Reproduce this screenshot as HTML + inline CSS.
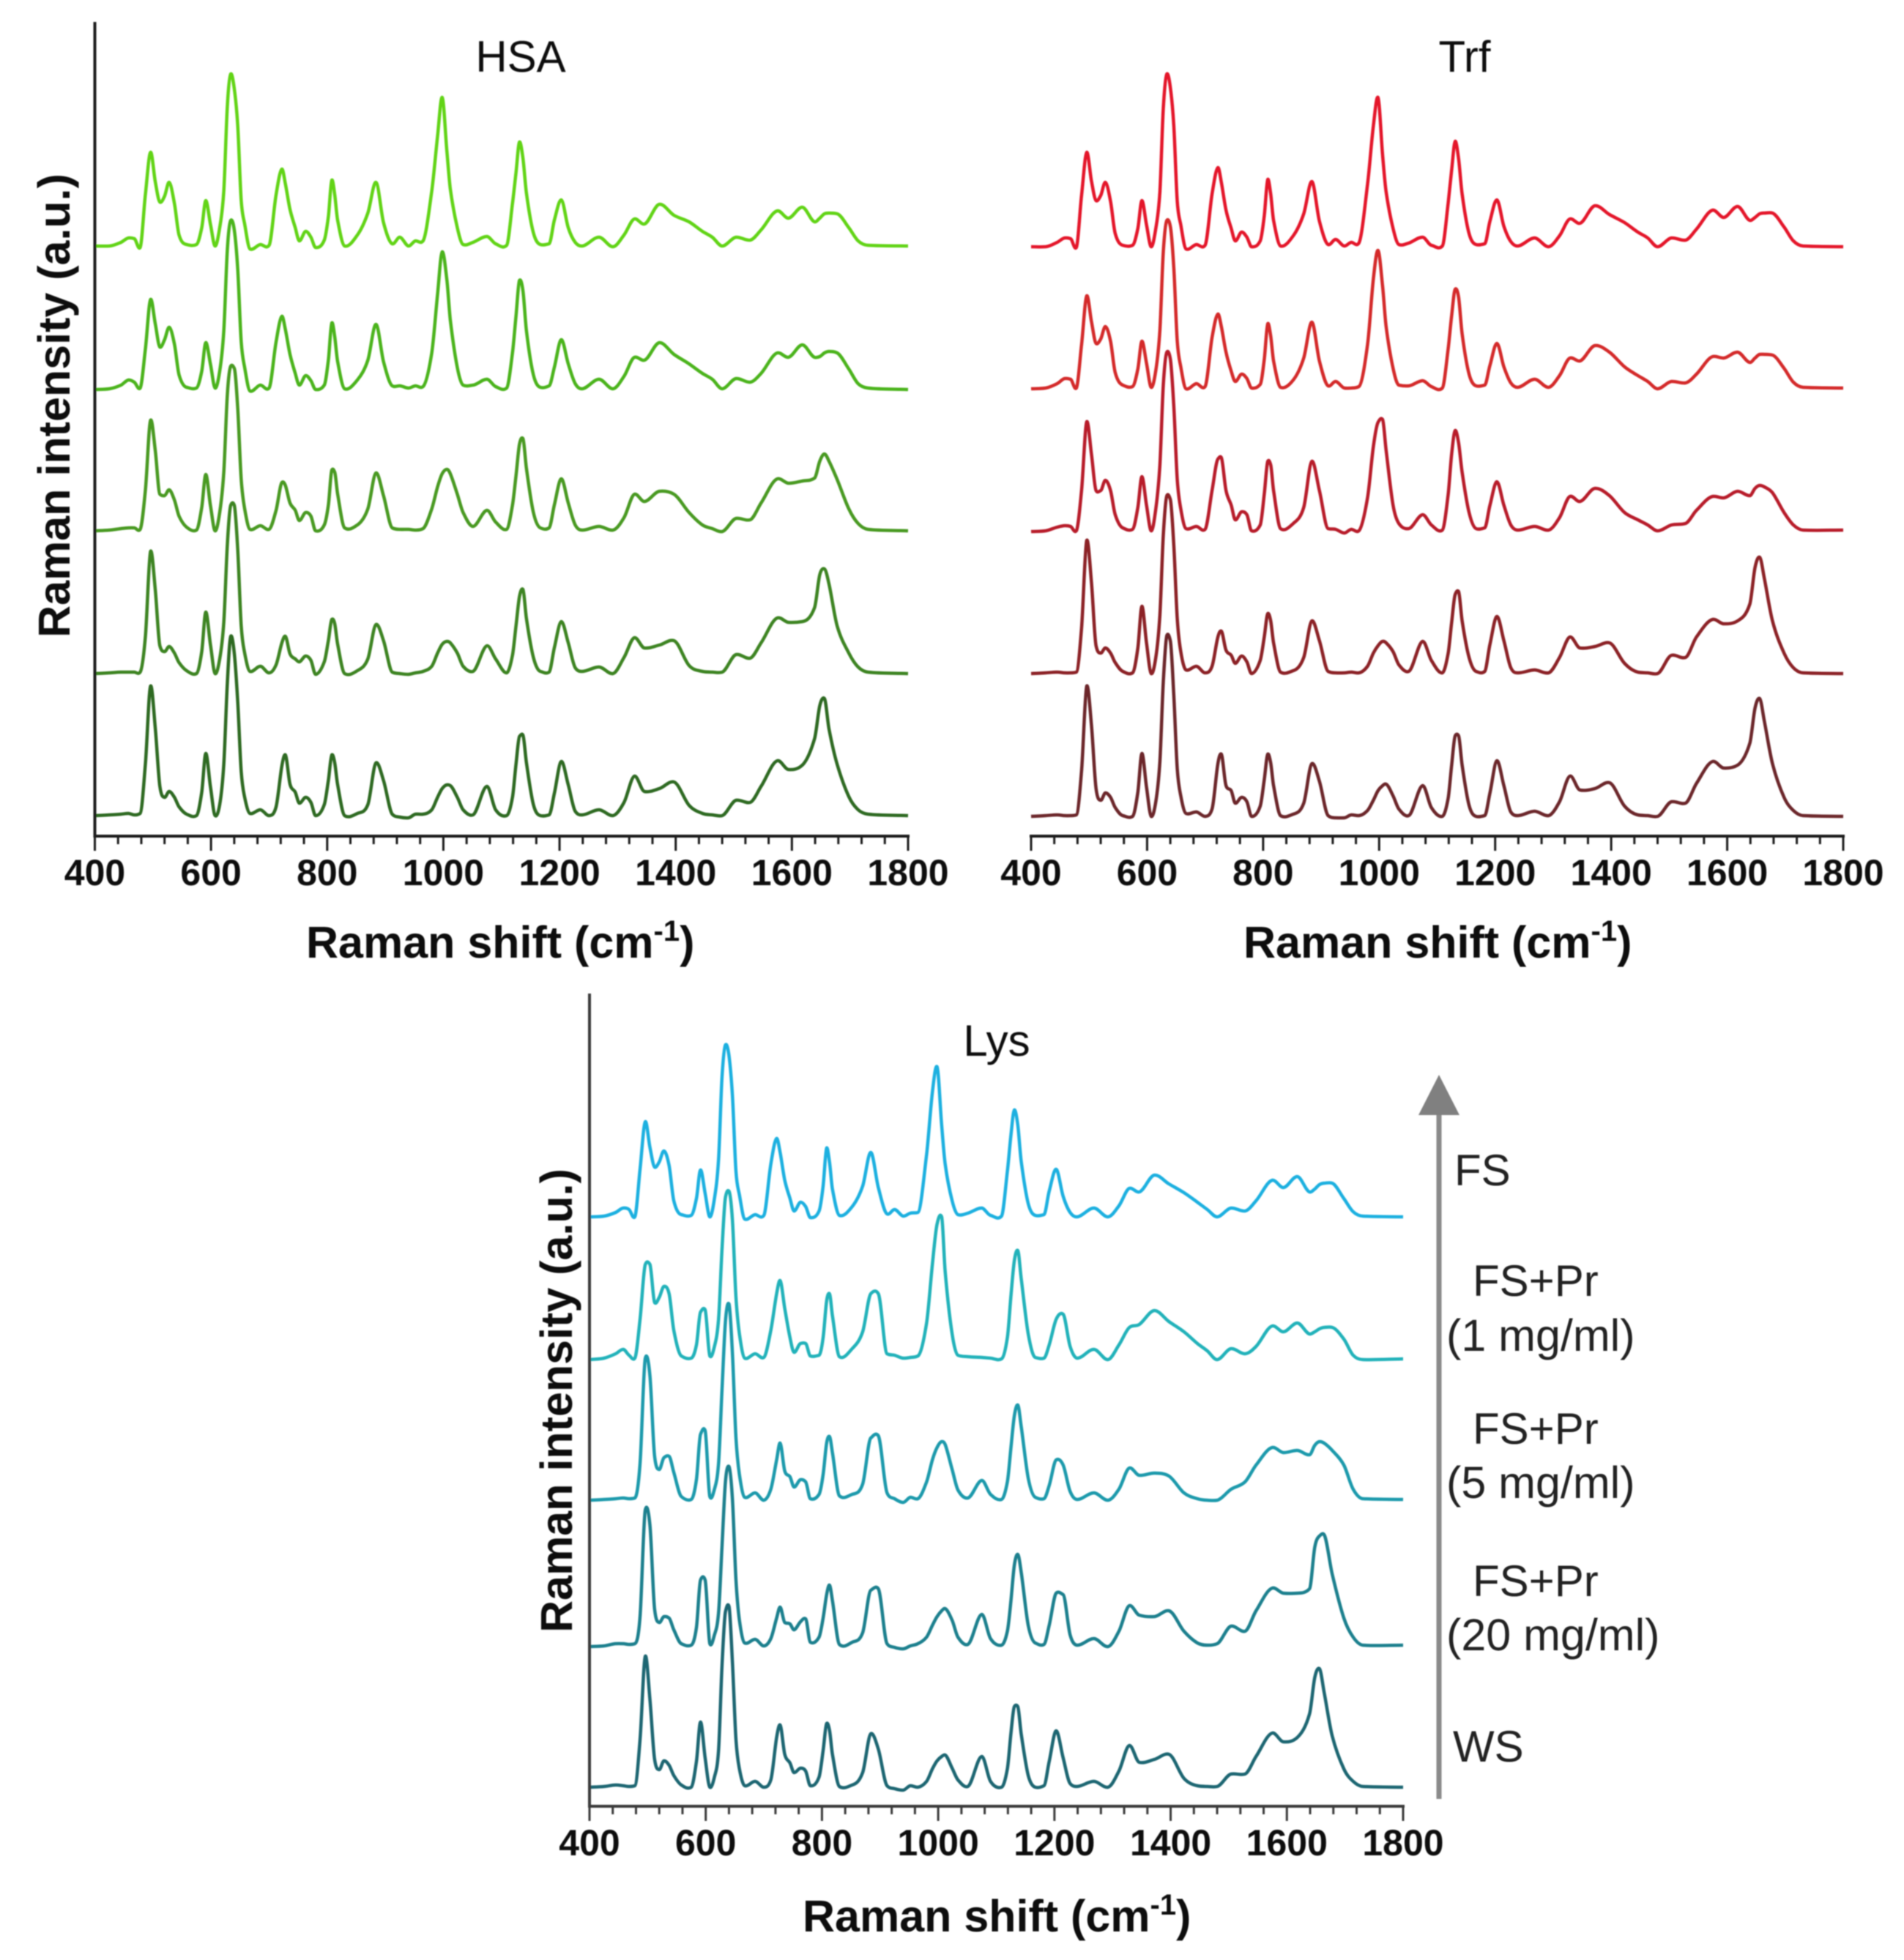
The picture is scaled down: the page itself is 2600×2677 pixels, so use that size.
<!DOCTYPE html>
<html lang="en">
<head>
<meta charset="utf-8">
<title>Raman spectra of HSA, Trf and Lys</title>
<style>
html,body{margin:0;padding:0;background:#fff;}
svg{display:block;}
text{font-family:"Liberation Sans",Arial,sans-serif;fill:#111;}
.tick{font-size:50px;font-weight:bold;text-anchor:middle;}
.axt{font-size:61px;font-weight:bold;}
.lab{font-size:60px;fill:#222;}
.lab2{font-size:61px;fill:#222;}
</style>
</head>
<body>
<svg id="chart" xmlns="http://www.w3.org/2000/svg" width="2600" height="2677" viewBox="0 0 2600 2677">
<defs><filter id="soft" x="-2%" y="-2%" width="104%" height="104%"><feGaussianBlur stdDeviation="0.9"/></filter></defs>
<rect width="2600" height="2677" fill="#fff"/>
<g id="plots" filter="url(#soft)">
<g id="hsa"></g>
<g id="trf"></g>
<g id="lys"></g>
<text x="711" y="98" font-size="60" text-anchor="middle">HSA</text>
<text x="2000" y="98" font-size="60" text-anchor="middle">Trf</text>
<text x="1361" y="1442" font-size="60" text-anchor="middle">Lys</text>
<text class="axt" transform="translate(95,554) rotate(-90)" text-anchor="middle">Raman intensity (a.u.)</text>
<text class="axt" transform="translate(781,1913) rotate(-90)" text-anchor="middle">Raman intensity (a.u.)</text>
<text class="axt" x="418" y="1308">Raman shift (cm<tspan font-size="40" dy="-23">-1</tspan><tspan dy="23">)</tspan></text>
<text class="axt" x="1698" y="1308">Raman shift (cm<tspan font-size="40" dy="-23">-1</tspan><tspan dy="23">)</tspan></text>
<text class="axt" x="1096" y="2638">Raman shift (cm<tspan font-size="40" dy="-23">-1</tspan><tspan dy="23">)</tspan></text>
<line x1="1965" y1="2457" x2="1965" y2="1515" stroke="#8a8a8a" stroke-width="7"/>
<polygon points="1965,1468 1993,1523 1937,1523" fill="#808080"/>
<text class="lab" x="1986" y="1619">FS</text>
<text class="lab" x="2011" y="1770">FS+Pr</text>
<text class="lab2" x="1975" y="1845">(1 mg/ml)</text>
<text class="lab" x="2011" y="1972">FS+Pr</text>
<text class="lab2" x="1975" y="2046">(5 mg/ml)</text>
<text class="lab" x="2011" y="2180">FS+Pr</text>
<text class="lab2" x="1975" y="2254">(20 mg/ml)</text>
<text class="lab" x="1984" y="2406">WS</text>
</g>
</svg>
<script>
const xTickLabels = [400,600,800,1000,1200,1400,1600,1800];
const xMinorStep = 40;
const shifts = [
400,425,445,458,468,478,487,496,504,512,
520,528,537,545,558,575,584,591,599,607,
615,622,628,634,640,646,652,658,667,685,
700,712,722,728,736,745,752,763,772,780,
795,802,808,813,818,830,852,870,884,897,
912,925,940,952,965,980,990,998,1006,1012,
1024,1034,1051,1075,1090,1109,1119,1125,1131,1137,
1143,1155,1167,1182,1191,1203,1215,1227,1239,1268,
1292,1311,1329,1346,1372,1397,1423,1446,1463,1480,
1504,1528,1547,1575,1594,1618,1639,1648,1656,1664,
1678,1698,1714,1731,1800];

const hsaFS = [
0,0,5,11,10,-2,70,128,88,60,
68,87,58,15,2,2,25,62,30,0,
25,75,190,235,215,165,62,30,-4,2,
1,70,105,85,50,25,7,20,12,-2,
8,40,90,70,35,0,15,45,87,32,
3,12,0,7,7,75,150,203,130,78,
25,2,5,13,3,1,58,100,142,120,
72,18,2,3,35,63,25,5,0,12,
-1,15,37,30,57,42,33,20,12,0,
12,8,22,48,38,53,33,38,44,45,
44,25,7,1,0];
const hsa1 = [
0,1,6,13,10,2,55,123,90,58,
68,85,62,20,3,2,25,64,35,2,
25,80,190,231,218,165,65,30,-2,6,
2,65,100,82,48,22,6,19,12,0,
6,40,91,72,38,1,13,40,89,38,
5,5,2,5,4,50,130,188,150,95,
30,6,6,14,4,2,50,100,149,135,
80,20,3,5,30,68,35,8,1,14,
1,18,44,40,64,48,35,22,14,1,
15,10,22,50,44,61,44,45,50,52,
50,28,8,2,0];
const hsa5 = [
0,1,3,4,4,2,55,151,110,50,
48,56,42,20,5,1,32,77,35,0,
25,80,185,225,222,168,70,30,2,7,
2,28,66,62,38,28,14,25,20,0,
8,35,83,80,50,4,8,30,79,48,
4,2,2,1,3,30,60,78,84,78,
50,25,6,28,12,2,35,75,118,126,
85,25,4,4,35,71,38,8,1,6,
1,18,50,40,54,50,25,8,3,-1,
17,15,38,71,65,68,72,95,105,95,
70,30,10,2,0];
const hsa20 = [
0,1,2,2,2,2,50,167,115,38,
30,37,28,15,4,0,30,84,40,0,
20,70,175,230,230,170,65,28,3,10,
1,12,42,51,27,20,16,24,18,-1,
16,45,74,68,40,0,4,20,67,45,
2,0,-1,1,3,10,28,40,44,42,
28,10,3,38,20,1,25,65,105,115,
75,22,3,2,35,71,42,8,3,9,
0,22,49,35,39,45,11,3,2,2,
26,21,42,76,70,71,90,135,143,122,
65,28,9,2,0];
const hsaWS = [
0,1,2,3,1,3,70,177,120,40,
25,33,25,12,2,0,32,85,40,0,
15,70,180,245,222,156,60,25,3,8,
0,12,68,83,43,32,17,25,18,0,
15,48,83,72,42,0,3,15,72,48,
2,-2,-3,2,2,8,25,37,42,41,
25,8,1,40,8,0,25,70,108,110,
72,15,0,1,30,74,42,6,1,8,
0,18,54,33,37,46,14,3,1,0,
21,18,40,75,63,69,105,150,160,118,
70,26,8,2,0];

const trfFS = [
0,0,6,12,11,-1,70,129,90,63,
70,88,62,18,2,2,25,63,30,0,
25,75,190,236,218,165,62,30,-3,3,
2,72,108,88,50,25,8,20,13,0,
8,42,92,72,36,1,15,45,89,35,
3,10,1,6,5,85,165,204,125,75,
25,3,5,13,2,1,60,105,144,120,
72,18,3,4,35,64,28,7,1,12,
0,15,38,32,56,44,33,20,12,0,
12,9,24,50,40,55,36,40,45,46,
46,27,8,1,0];
const trf1 = [
0,1,7,14,13,1,60,127,92,62,
68,85,65,22,5,3,27,65,35,2,
25,80,188,230,222,165,65,30,0,7,
3,70,102,85,50,24,10,20,14,1,
6,40,89,72,38,2,12,42,91,38,
4,10,1,1,3,60,150,189,140,85,
28,5,4,11,3,1,55,100,136,125,
75,20,4,5,32,62,30,8,2,13,
2,18,42,38,59,50,30,18,10,0,
10,8,20,44,42,50,36,42,47,47,
46,28,9,2,1];
const trf5 = [
-1,0,5,7,6,0,55,149,105,55,
55,69,55,22,4,2,32,74,35,0,
30,90,200,244,235,170,70,30,3,6,
2,55,98,100,55,35,15,26,22,0,
8,50,95,90,55,3,10,32,95,55,
3,2,-3,2,0,45,115,148,152,110,
35,10,3,22,8,1,50,105,137,120,
80,25,3,4,35,67,35,8,1,6,
1,18,47,40,58,48,25,15,8,0,
8,10,28,47,45,54,48,58,62,60,
52,25,8,1,1];
const trf20 = [
0,1,2,1,1,2,62,182,125,38,
28,35,28,15,3,1,35,92,42,0,
22,80,190,243,238,175,75,30,5,10,
1,10,50,58,32,25,14,24,16,0,
18,50,82,72,42,2,4,22,72,45,
3,1,1,2,1,10,28,38,44,42,
30,12,3,44,18,1,28,70,108,112,
72,22,3,3,40,78,45,8,1,5,
1,22,50,35,37,42,14,2,1,0,
25,22,50,74,68,72,95,145,159,130,
72,28,8,1,0];
const trfWS = [
0,1,2,1,1,2,62,178,125,38,
22,32,26,12,1,0,33,86,40,0,
20,75,185,247,240,165,65,28,4,6,
0,10,72,85,42,35,18,26,20,0,
14,50,85,73,42,1,3,18,72,48,
1,-2,-2,2,1,8,22,35,42,44,
28,10,1,42,12,0,25,70,110,110,
70,15,0,1,32,76,42,6,1,7,
1,20,55,36,38,46,14,2,1,0,
20,18,45,75,66,70,100,148,161,130,
72,26,8,1,0];

const lysFS = [
0,1,6,12,10,0,65,130,95,68,
75,90,70,22,3,2,25,64,32,0,
25,78,190,235,220,165,62,30,-3,3,
2,72,107,88,50,25,8,20,14,-1,
8,42,94,75,38,2,14,42,88,40,
4,10,1,5,6,85,170,205,125,72,
22,3,5,12,2,1,62,110,146,125,
75,18,2,3,35,65,28,6,0,12,
0,15,39,34,57,45,33,20,10,0,
12,8,22,50,40,55,34,38,44,46,
46,25,7,1,0];
const lys1 = [
0,2,8,14,6,2,55,130,130,78,
85,100,90,40,5,2,20,65,68,5,
18,55,150,222,230,190,85,35,2,8,
3,40,90,108,70,30,10,22,22,5,
6,30,80,90,60,4,15,38,90,90,
8,6,2,3,5,50,130,185,195,120,
35,6,4,3,2,1,30,85,135,149,
110,35,3,2,20,55,62,18,2,14,
0,20,44,48,67,52,38,22,12,0,
15,8,18,46,38,50,35,38,42,44,
44,28,6,0,1];
const lys5 = [
0,1,2,3,2,3,50,194,170,60,
42,58,60,38,5,1,28,90,95,5,
15,50,150,245,268,200,85,35,4,10,
0,15,55,78,40,32,18,28,25,2,
8,35,78,87,65,6,8,22,85,88,
10,2,-3,4,2,25,55,72,80,76,
42,14,3,27,8,1,25,70,115,130,
100,30,4,2,20,55,48,12,1,10,
0,15,44,34,37,33,10,2,0,0,
15,25,48,72,65,68,62,75,80,78,
68,48,15,2,1];
const lys20 = [
-1,0,3,3,2,3,40,186,165,50,
32,40,38,22,3,1,25,90,90,3,
15,45,135,225,245,200,90,35,4,9,
0,10,38,53,32,30,22,33,37,5,
12,38,70,83,62,2,5,18,76,78,
3,-2,-4,0,3,12,28,40,48,51,
35,12,2,43,10,1,20,60,110,125,
100,28,4,2,28,72,70,15,1,10,
-1,20,55,42,40,48,20,4,1,3,
27,20,48,79,72,72,78,135,150,152,
98,38,12,1,1];
const lysWS = [
0,1,3,2,1,2,65,179,120,38,
24,36,30,16,3,0,35,89,40,0,
14,50,165,240,247,170,65,25,2,8,
0,10,68,85,45,33,20,26,22,2,
14,50,87,78,45,1,3,20,73,52,
2,-2,-4,2,0,8,25,36,42,44,
26,10,1,42,8,0,25,72,110,110,
72,16,0,2,35,77,40,5,1,8,
0,22,57,34,38,45,12,2,1,1,
18,18,42,74,62,68,100,150,162,130,
70,25,8,1,0];

const hsaSeries = [hsaFS,hsa1,hsa5,hsa20,hsaWS];
const trfSeries = [trfFS,trf1,trf5,trf20,trfWS];
const lysSeries = [lysFS,lys1,lys5,lys20,lysWS];
const seriesNames = ['fs','fs-pr-1','fs-pr-5','fs-pr-20','ws'];

const SVGNS = 'http://www.w3.org/2000/svg';
const X_MIN = 400, X_MAX = 1800;

function xScale(panel, v){ return panel.left + (v - X_MIN) / (X_MAX - X_MIN) * (panel.right - panel.left); }
function yScale(baseline, v){ return baseline - v; }

function smoothPath(px, py){
  const n = px.length, m = new Array(n), d = [];
  for(let i=0;i<n-1;i++){ d[i] = (py[i+1]-py[i])/(px[i+1]-px[i]); }
  m[0] = d[0]; m[n-1] = d[n-2];
  for(let i=1;i<n-1;i++){
    const c = (py[i+1]-py[i-1])/(px[i+1]-px[i-1]);
    if(d[i-1]*d[i] <= 0){ m[i] = 0.45*c; }
    else {
      const lim = 3*Math.min(Math.abs(d[i-1]),Math.abs(d[i]));
      m[i] = Math.sign(c)*Math.min(Math.abs(c),lim);
    }
  }
  let s = 'M' + px[0].toFixed(1) + ' ' + py[0].toFixed(1);
  for(let i=0;i<n-1;i++){
    const h = (px[i+1]-px[i])/3;
    s += 'C' + (px[i]+h).toFixed(1) + ' ' + (py[i]+m[i]*h).toFixed(1) + ' ' +
         (px[i+1]-h).toFixed(1) + ' ' + (py[i+1]-m[i+1]*h).toFixed(1) + ' ' +
         px[i+1].toFixed(1) + ' ' + py[i+1].toFixed(1);
  }
  return s;
}

function drawPanel(panel){
  const g = document.getElementById(panel.id);
  panel.series.forEach(function(values, i){
    const p = document.createElementNS(SVGNS, 'path');
    const px = shifts.map(function(s){ return xScale(panel, s); });
    const py = values.map(function(v){ return yScale(panel.baselines[i], v); });
    p.setAttribute('d', smoothPath(px, py));
    p.setAttribute('fill', 'none');
    p.setAttribute('stroke', panel.colors[i]);
    p.setAttribute('stroke-width', '4.5');
    p.setAttribute('stroke-linejoin', 'round');
    
    
    g.appendChild(p);
  });
  const ax = document.createElementNS(SVGNS, 'line');
  ax.setAttribute('x1', panel.left - 2);
  ax.setAttribute('x2', panel.right + 2);
  ax.setAttribute('y1', panel.axisY);
  ax.setAttribute('y2', panel.axisY);
  ax.setAttribute('stroke', panel.axisColor);
  ax.setAttribute('stroke-width', '4');
  
  
  g.appendChild(ax);
  if(panel.yTop !== null){
    const ay = document.createElementNS(SVGNS, 'line');
    ay.setAttribute('x1', panel.left);
    ay.setAttribute('x2', panel.left);
    ay.setAttribute('y1', panel.yTop);
    ay.setAttribute('y2', panel.axisY + 2);
    ay.setAttribute('stroke', panel.axisColor);
    ay.setAttribute('stroke-width', '4');
    
    
    g.appendChild(ay);
  }
  for(let v = X_MIN; v <= X_MAX; v += xMinorStep){
    const major = (v - X_MIN) % 200 === 0;
    const t = document.createElementNS(SVGNS, 'line');
    t.setAttribute('x1', xScale(panel, v));
    t.setAttribute('x2', xScale(panel, v));
    t.setAttribute('y1', panel.axisY);
    t.setAttribute('y2', panel.axisY + (major ? 20 : 11));
    t.setAttribute('stroke', panel.axisColor);
    t.setAttribute('stroke-width', '3');
    
    
    g.appendChild(t);
  }
  xTickLabels.forEach(function(v){
    const t = document.createElementNS(SVGNS, 'text');
    t.setAttribute('class', 'tick');
    t.setAttribute('x', xScale(panel, v));
    t.setAttribute('y', panel.axisY + 67);
    
    
    t.textContent = v;
    g.appendChild(t);
  });
}

drawPanel({id:'hsa', left:129.5, right:1240, axisY:1142, yTop:30, axisColor:'#1a1a1a', series:hsaSeries,
  baselines:[336,532,725,920,1114],
  colors:['#62d418','#4cb41f','#489a22','#3c8424','#2f6a24']});
drawPanel({id:'trf', left:1408, right:2517, axisY:1142, yTop:null, axisColor:'#1a1a1a', series:trfSeries,
  baselines:[337,531,725,920,1115],
  colors:['#e4122c','#d42a2c','#b81e2c','#8c2028','#6c2629']});
drawPanel({id:'lys', left:805, right:1916, axisY:2467, yTop:1357, axisColor:'#3a3a3a', series:lysSeries,
  baselines:[1662,1857,2049,2248,2441],
  colors:['#1fb0e0','#20b2ba','#1f9aac','#1d808e','#1f6672']});
</script>
</body>
</html>
